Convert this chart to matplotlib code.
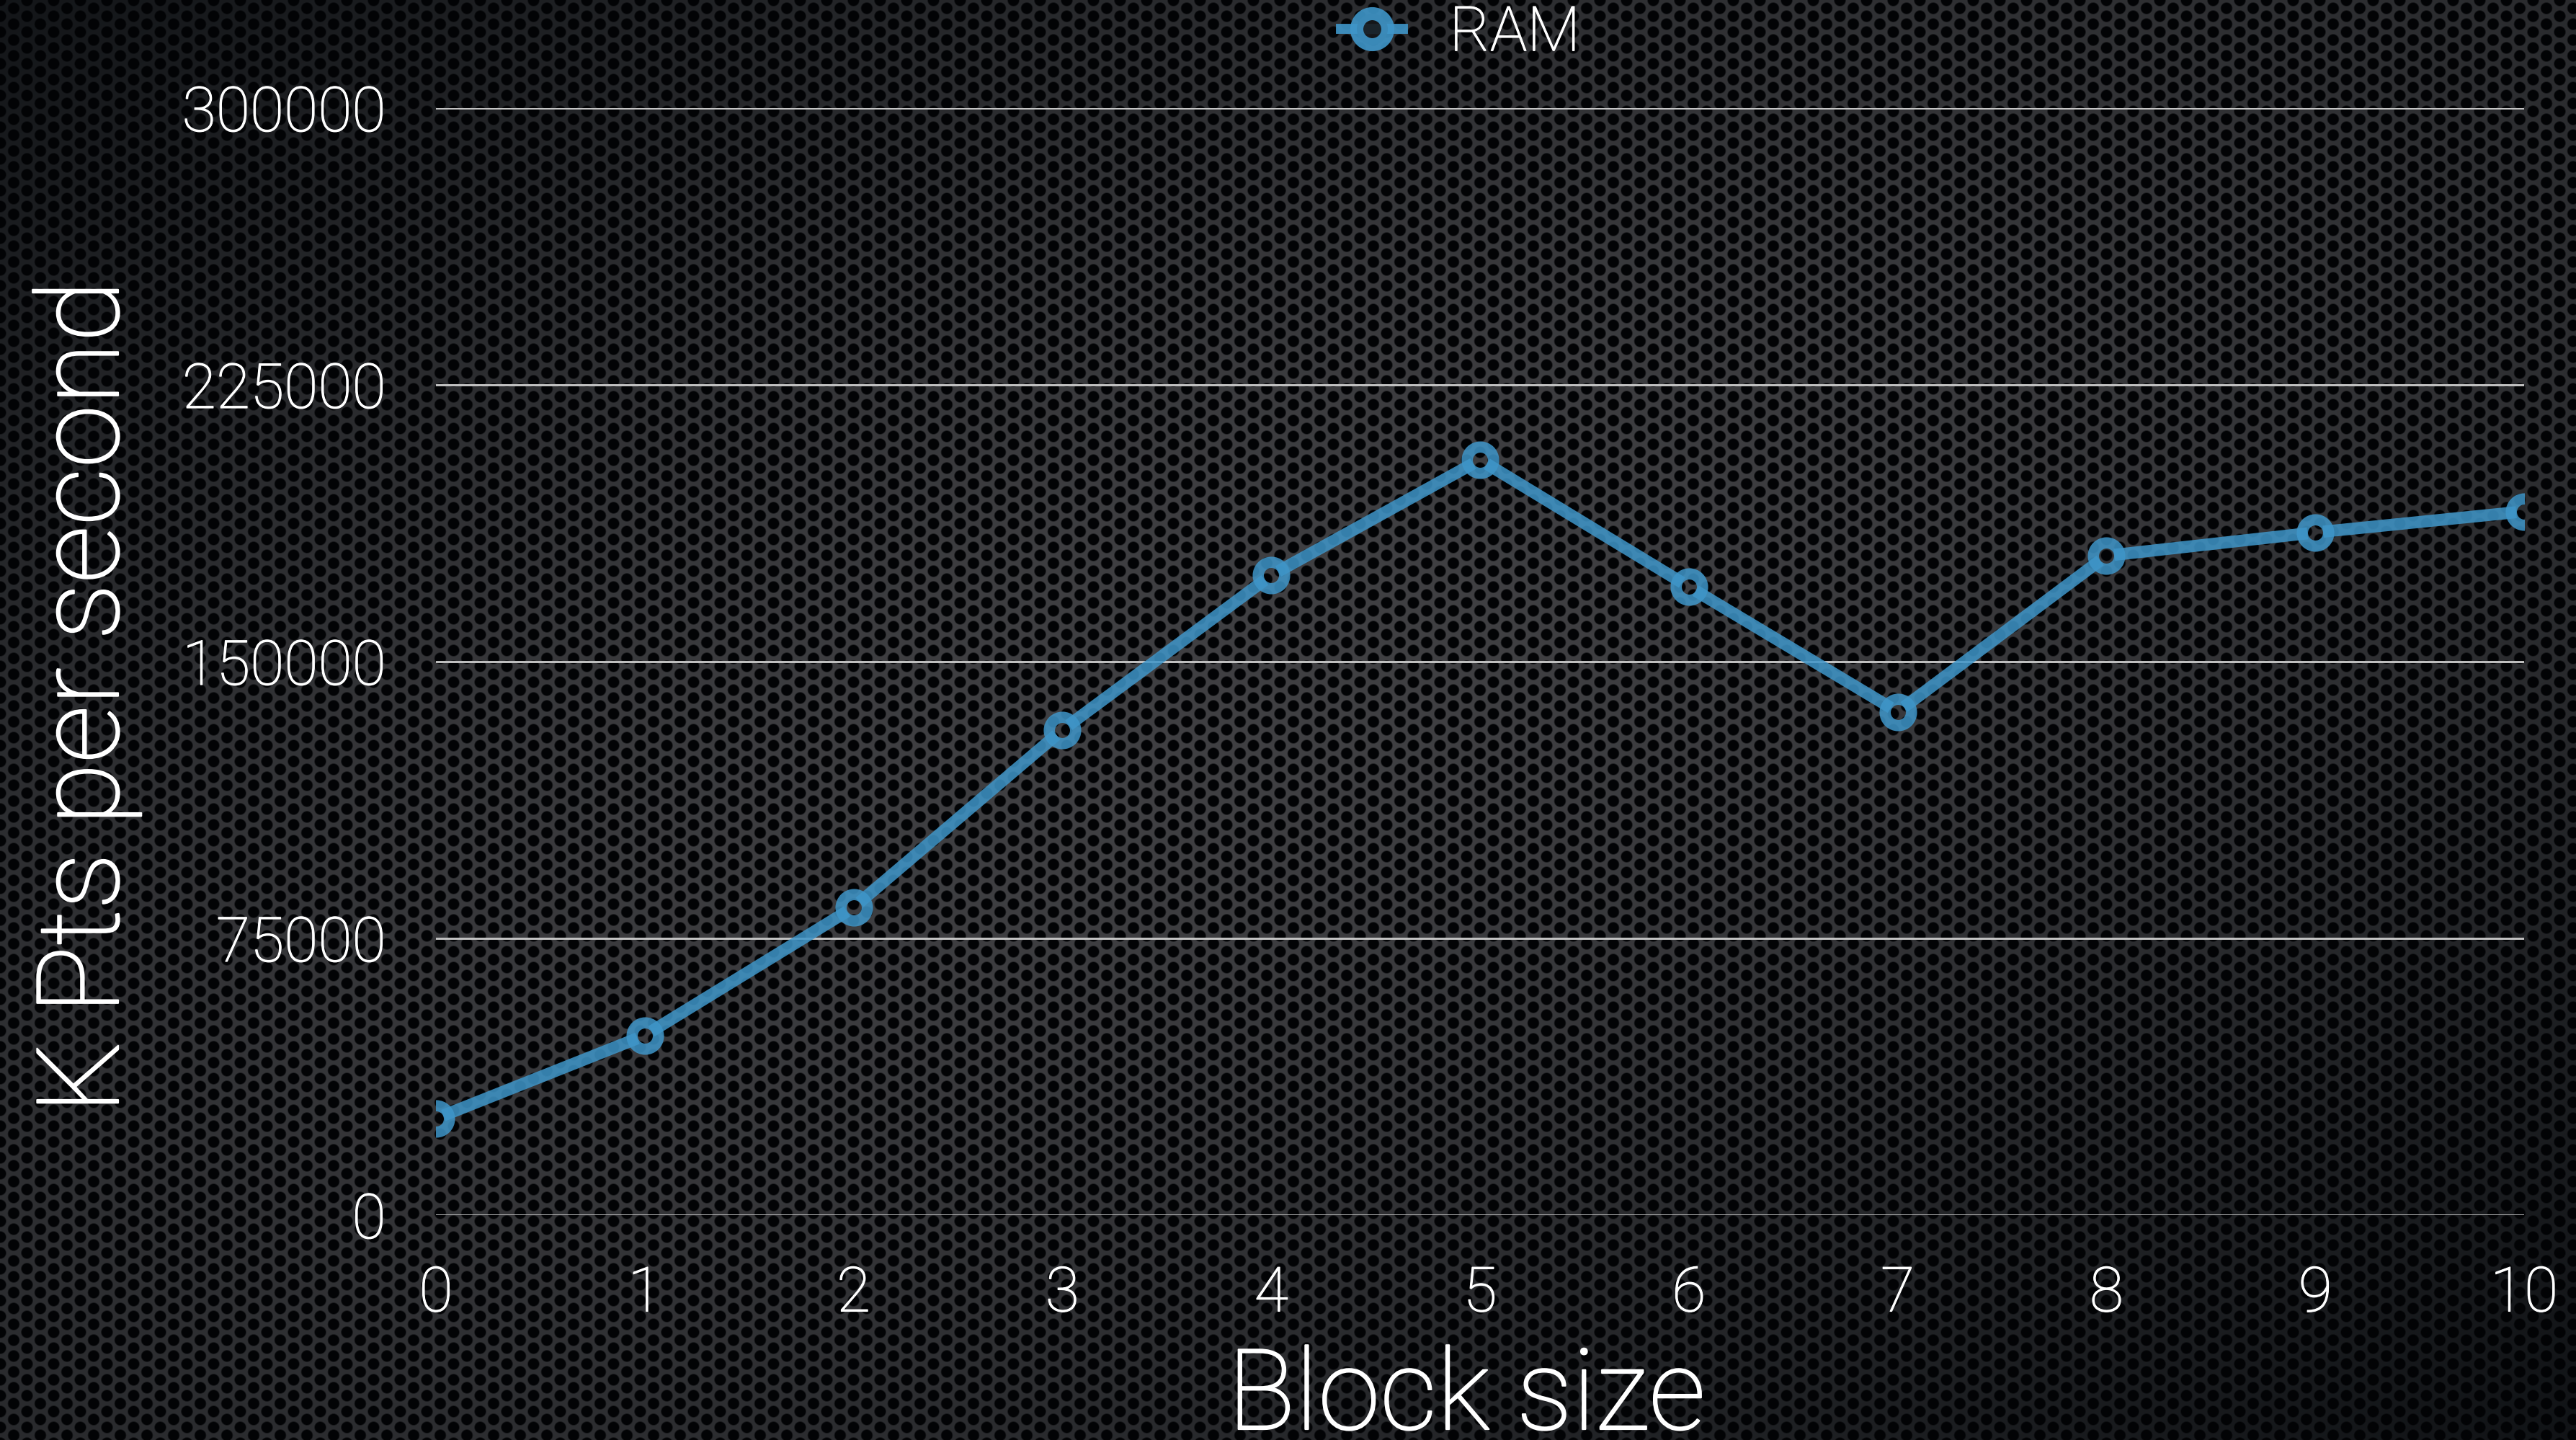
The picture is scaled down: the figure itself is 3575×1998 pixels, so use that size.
import numpy as np
import matplotlib
matplotlib.use("Agg")
import matplotlib.pyplot as plt
import matplotlib.patheffects as pe
from matplotlib.lines import Line2D

# ==============================
# Data
# ==============================
block_sizes = [0, 1, 2, 3, 4, 5, 6, 7, 8, 9, 10]
ram_kpts = [26200, 48700, 83400, 131500, 173400, 204700, 170300, 136400, 178700, 185000, 190700]
y_ticks = [0, 75000, 150000, 225000, 300000]
series_name = "RAM"
x_title = "Block size"
y_title = "K Pts per second"

W, H, DPI = 3575, 1998, 100
LINE_COLOR = "#3f96c9"
FONT = "Roboto"
plt.rcParams["font.family"] = [FONT, "DejaVu Sans"]
plt.rcParams["font.weight"] = "light"

# light weight with a touch of extra stroke
thin_fx = [pe.withStroke(linewidth=0.9, foreground="white")]
big_fx = [pe.withStroke(linewidth=1.6, foreground="white")]


# ==============================
# Perforated metal backdrop
# ==============================
def perforated_texture(w, h):
    yy, xx = np.mgrid[0:h, 0:w].astype(np.float32)
    col, row, rad = 18.5, 22.0, 7.0

    def lattice_dist(x, y):
        px = np.mod(x, 2 * col)
        py = np.mod(y, row)
        ddx = np.minimum(px, 2 * col - px)
        ddy = np.minimum(py, row - py)
        return np.hypot(ddx, ddy)

    d = np.minimum(lattice_dist(xx, yy), lattice_dist(xx - col, yy - row / 2))
    open_mask = np.clip((d - rad) / 1.8, 0, 1)

    # light falls off toward top-left / bottom-right corners
    u = (xx - 1750) / w
    v = (yy - 950) / h
    d1 = u + v
    d2 = u - v
    light = np.exp(-(d1 ** 2 / 0.8 ** 2 + d2 ** 2 / 1.4 ** 2))

    floor = np.array([6, 9, 12], dtype=np.float32)
    peak = np.array([64, 64, 67], dtype=np.float32)
    hole = np.array([2, 3, 5], dtype=np.float32)
    mesh = floor + (peak - floor) * light[..., None]
    img = hole + (mesh - hole) * open_mask[..., None]
    return np.clip(img, 0, 255).astype(np.uint8)


fig = plt.figure(figsize=(W / DPI, H / DPI), dpi=DPI)
fig.figimage(perforated_texture(W, H), xo=0, yo=0, origin="upper", zorder=-10)

# ==============================
# Axes
# ==============================
left, right, bottom, top = 605, 3503, 1686, 150
ax = fig.add_axes([left / W, 1 - bottom / H, (right - left) / W, (bottom - top) / H])
ax.set_facecolor("none")
ax.set_xlim(block_sizes[0], block_sizes[-1])
ax.set_ylim(y_ticks[0], y_ticks[-1])
for s in ax.spines.values():
    s.set_visible(False)

ax.set_xticks(block_sizes)
ax.set_yticks(y_ticks)
ax.set_yticklabels([str(t) for t in y_ticks])
ax.tick_params(axis="both", length=0, colors="white", labelsize=62, pad=50)
for lab in ax.get_xticklabels() + ax.get_yticklabels():
    lab.set_fontweight("light")
    lab.set_path_effects(thin_fx)

ax.set_axisbelow(True)
ax.yaxis.grid(True, color="#c4c4c4", linewidth=2.1)
ax.xaxis.grid(False)

# ==============================
# Series: segments stop at the ring so the marker holes stay open
# ==============================
pts = ax.transData.transform(np.column_stack([block_sizes, ram_kpts]))
gap = 11.0
inv = ax.transData.inverted()
for p0, p1 in zip(pts[:-1], pts[1:]):
    vec = p1 - p0
    unit = vec / np.hypot(*vec)
    a = inv.transform(p0 + unit * gap)
    b = inv.transform(p1 - unit * gap)
    ax.plot([a[0], b[0]], [a[1], b[1]], color=LINE_COLOR, linewidth=12,
            alpha=0.85, solid_capstyle="butt", zorder=3)

ax.plot(block_sizes, ram_kpts, linestyle="none", marker="o", markersize=26.3,
        markeredgewidth=11.2, markeredgecolor=LINE_COLOR, markerfacecolor="none",
        alpha=0.85, zorder=4)

# ==============================
# Labels and legend
# ==============================
ax.set_xlabel(x_title, fontsize=112, color="white", fontweight="light", va="baseline",
              path_effects=big_fx)
ax.xaxis.set_label_coords((2035 - left) / (right - left), (bottom - 1983) / (bottom - top))
ax.set_ylabel(y_title, fontsize=114, color="white", fontweight="light", va="baseline",
              path_effects=big_fx)
ax.yaxis.set_label_coords((164 - left) / (right - left), (bottom - 967) / (bottom - top))

handle = Line2D([], [], color=LINE_COLOR, linewidth=10, marker="o", markersize=31,
                markeredgewidth=13, markeredgecolor=LINE_COLOR,
                markerfacecolor="#17191c", alpha=0.9, label=series_name)
leg = fig.legend(handles=[handle], loc="center", bbox_to_anchor=(2027 / W, 1 - 47 / H),
                 frameon=False, fontsize=62, handlelength=1.0, handletextpad=0.75,
                 borderpad=0, borderaxespad=0)
for t in leg.get_texts():
    t.set_color("white")
    t.set_fontweight("light")
    t.set_path_effects(thin_fx)

fig.savefig("out.png", dpi=DPI)
